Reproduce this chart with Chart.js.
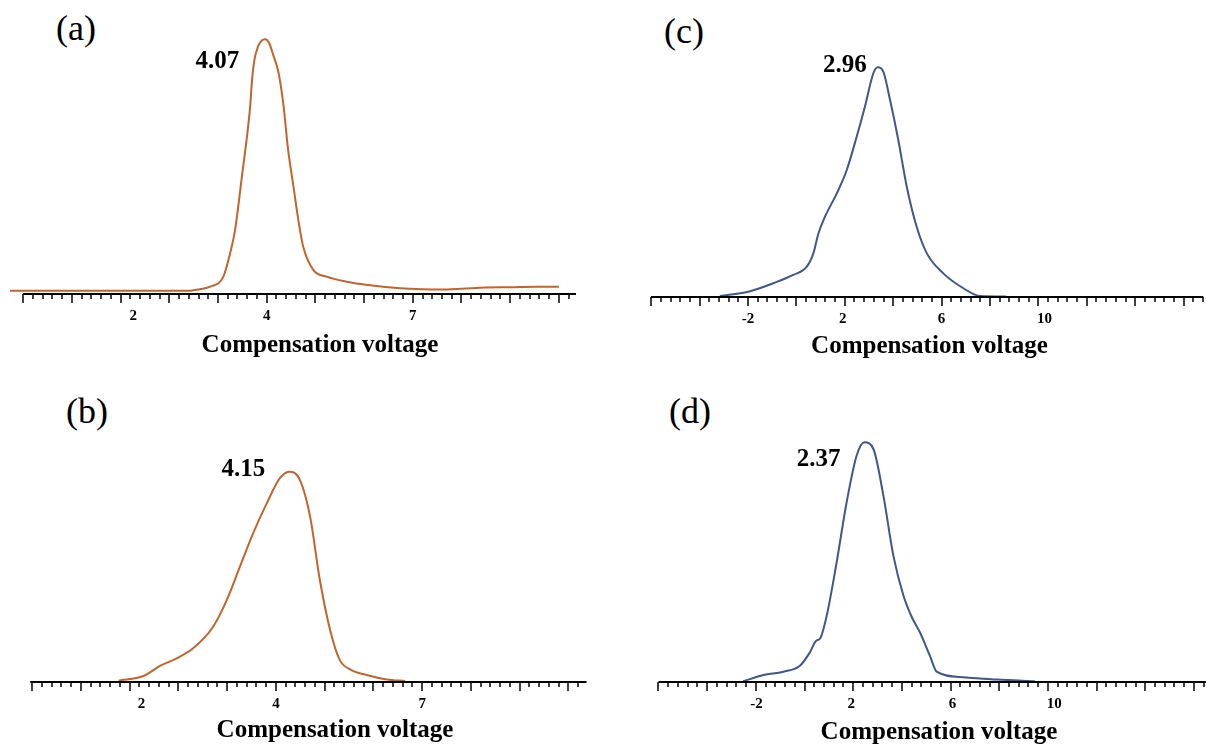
<!DOCTYPE html>
<html>
<head>
<meta charset="utf-8">
<script src="https://cdn.jsdelivr.net/npm/chart.js@4.4.0/dist/chart.umd.min.js"></script>
<style>
  body { margin: 0; background: #fff; }
  #page { position: relative; width: 1206px; height: 747px; overflow: hidden; background: #fff; }
  canvas { position: absolute; }
  .tag { position: absolute; font: 36px "Liberation Serif", "Times New Roman", serif; line-height: 36px; color: #000; }
</style>
</head>
<body>
<div id="page">
  <div class="tag" style="left:56px;top:10px">(a)</div>
  <div class="tag" style="left:66px;top:393px">(b)</div>
  <div class="tag" style="left:664px;top:13px">(c)</div>
  <div class="tag" style="left:669px;top:393px">(d)</div>
  <canvas id="chartA" width="624" height="341" style="left:8px;top:20px"></canvas>
  <canvas id="chartB" width="614" height="346" style="left:28px;top:400px"></canvas>
  <canvas id="chartC" width="561" height="342" style="left:649px;top:20px"></canvas>
  <canvas id="chartD" width="564" height="348" style="left:657px;top:400px"></canvas>
</div>
<script>
//Curve values (x = compensation voltage, y = relative intensity)
const aX = [-1.27, 2.43, 2.63, 2.84, 3.11, 3.25, 3.35, 3.49, 3.66, 3.70, 3.75, 3.82, 3.90, 3.97, 4.05, 4.13, 4.24, 4.34, 4.44, 4.55, 4.65, 4.75, 4.96, 5.23, 5.64, 6.12, 6.74, 7.20, 7.56, 8.00, 8.50, 9.00, 9.50, 10.0];
const aY = [0, 0, 0.006, 0.016, 0.056, 0.15, 0.241, 0.453, 0.732, 0.84, 0.92, 0.97, 0.995, 1.0, 0.985, 0.94, 0.87, 0.745, 0.56, 0.414, 0.281, 0.175, 0.082, 0.056, 0.036, 0.022, 0.010, 0.006, 0.005, 0.008, 0.013, 0.014, 0.016, 0.016];

const bX = [0.77, 1.28, 1.62, 1.96, 2.30, 2.71, 2.99, 3.26, 3.53, 3.81, 4.08, 4.27, 4.49, 4.70, 4.90, 5.11, 5.31, 5.52, 5.86, 6.27, 6.65];
const bY = [0.004, 0.026, 0.074, 0.110, 0.158, 0.261, 0.388, 0.547, 0.706, 0.849, 0.969, 1.0, 0.961, 0.786, 0.484, 0.246, 0.102, 0.058, 0.031, 0.010, 0.002];

const cX = [-3.16, -1.99, -0.95, -0.13, 0.43, 0.70, 0.91, 1.18, 1.67, 2.08, 2.49, 2.83, 3.18, 3.36, 3.59, 3.87, 4.21, 4.56, 4.97, 5.39, 6.07, 6.90, 7.59, 8.66];
const cY = [0.002, 0.021, 0.058, 0.094, 0.13, 0.188, 0.275, 0.348, 0.45, 0.552, 0.697, 0.828, 0.974, 1.0, 0.981, 0.857, 0.683, 0.479, 0.304, 0.188, 0.101, 0.036, 0.002, 0.0];

const dX = [-2.52, -1.69, -0.87, -0.19, 0.22, 0.47, 0.64, 0.91, 1.32, 1.73, 2.14, 2.46, 2.83, 3.24, 3.65, 4.06, 4.40, 4.74, 5.15, 5.43, 6.52, 7.90, 9.47];
const dY = [0, 0.026, 0.04, 0.065, 0.121, 0.169, 0.179, 0.274, 0.498, 0.749, 0.944, 1.0, 0.972, 0.777, 0.526, 0.360, 0.27, 0.205, 0.107, 0.04, 0.017, 0.007, 0.0];

//Tick labels as printed on each axis and where they sit
const abTickText = ["2", "4", "7"];
const aTickAt = [1.26, 4, 7];
const bTickAt = [1.24, 4, 7];
const cdTickText = ["-2", "2", "6", "10"];
const cTickAt = [-2, 1.92, 6, 10.25];
const dTickAt = [-1.97, 1.92, 6.08, 10.26];

//Peak values written next to each curve
const peakText = ["4.07", "4.15", "2.96", "2.37"];

const axisTitle = "Compensation voltage";
const serif = "'Liberation Serif', 'Times New Roman', serif";
const orange = "#c2652c";
const blue = "#3f578a";

//axis line with minor ticks and a longer tick every fifth one
const axisMarks = {
  id: "axisMarks",
  afterDraw(chart, args, opts) {
    const ctx = chart.ctx;
    const xs = chart.scales.x;
    const y0 = chart.chartArea.bottom;
    ctx.save();
    ctx.strokeStyle = "#000";
    ctx.lineWidth = 2;
    ctx.beginPath();
    ctx.moveTo(xs.getPixelForValue(opts.from), y0);
    ctx.lineTo(xs.getPixelForValue(opts.to), y0);
    ctx.stroke();
    ctx.lineWidth = 1.5;
    for (let i = 0; ; i++) {
      const v = opts.start + i * opts.step;
      if (v > opts.to + 1e-6) break;
      const px = Math.round(xs.getPixelForValue(v));
      const len = i % 5 === 0 ? 9 : 5;
      ctx.beginPath();
      ctx.moveTo(px, y0);
      ctx.lineTo(px, y0 + len);
      ctx.stroke();
    }
    ctx.restore();
  },
};

//value label placed beside the highest point of the curve
const peakMark = {
  id: "peakMark",
  afterDatasetsDraw(chart, args, opts) {
    const ys = chart.data.datasets[0].data.map((p) => p.y);
    const top = chart.getDatasetMeta(0).data[ys.indexOf(Math.max(...ys))];
    const ctx = chart.ctx;
    ctx.save();
    ctx.fillStyle = "#000";
    ctx.font = "bold 25px " + serif;
    ctx.textAlign = "right";
    ctx.textBaseline = "alphabetic";
    ctx.fillText(opts.text, top.x + opts.dx, top.y + opts.dy);
    ctx.restore();
  },
};

function makePanel(id, xs, ys, color, p) {
  return new Chart(document.getElementById(id), {
    type: "line",
    plugins: [axisMarks, peakMark],
    data: {
      datasets: [
        {
          data: xs.map((x, i) => ({ x: x, y: ys[i] })),
          borderColor: color,
          borderWidth: 2,
          pointRadius: 0,
          cubicInterpolationMode: "monotone",
          fill: false,
        },
      ],
    },
    options: {
      responsive: false,
      animation: false,
      layout: { padding: 0 },
      scales: {
        x: {
          type: "linear",
          min: p.xMin,
          max: p.xMax,
          border: { display: false },
          grid: { display: false, drawTicks: false },
          ticks: {
            autoSkip: false,
            maxRotation: 0,
            padding: 13,
            color: "#000",
            font: { family: serif, size: 15, weight: "bold" },
            callback: (v, i) => p.tickText[i],
          },
          afterBuildTicks: (scale) => {
            scale.ticks = p.tickAt.map((v) => ({ value: v }));
          },
          afterFit: (scale) => {
            scale.height = p.axisH;
          },
          title: {
            display: true,
            text: axisTitle,
            color: "#000",
            padding: 0,
            font: { family: serif, size: 25, weight: "bold", lineHeight: 1.2 },
          },
        },
        y: { display: false, min: p.yMin, max: p.yMax },
      },
      plugins: {
        legend: { display: false },
        tooltip: { enabled: false },
        axisMarks: { from: p.from, to: p.to, start: p.start, step: p.step },
        peakMark: { text: p.peak, dx: p.dx, dy: p.dy },
      },
    },
  });
}

makePanel("chartA", aX, aY, orange, {
  xMin: -1.312, xMax: 11.501, yMin: -0.0131, yMax: 1.0768, axisH: 67,
  tickAt: aTickAt, tickText: abTickText,
  from: -1, to: 10.35, start: -1, step: 0.2,
  peak: peakText[0], dx: -26, dy: 29,
});
makePanel("chartB", bX, bY, orange, {
  xMin: -1.087, xMax: 11.508, yMin: -0.0024, yMax: 1.3418, axisH: 64,
  tickAt: bTickAt, tickText: abTickText,
  from: -1.04, to: 10.37, start: -1, step: 0.2,
  peak: peakText[1], dx: -24, dy: 4,
});
makePanel("chartC", cX, cY, blue, {
  xMin: -6.091, xMax: 17.09, yMin: -0.0022, yMax: 1.2064, axisH: 65,
  tickAt: cTickAt, tickText: cdTickText,
  from: -6.01, to: 16.81, start: -6, step: 0.4,
  peak: peakText[2], dx: -11, dy: 5,
});
makePanel("chartD", dX, dY, blue, {
  xMin: -6.061, xMax: 17.111, yMin: -0.003, yMax: 1.177, axisH: 66,
  tickAt: dTickAt, tickText: cdTickText,
  from: -6, to: 16.49, start: -6, step: 0.4,
  peak: peakText[3], dx: -24, dy: 24,
});
</script>
</body>
</html>
